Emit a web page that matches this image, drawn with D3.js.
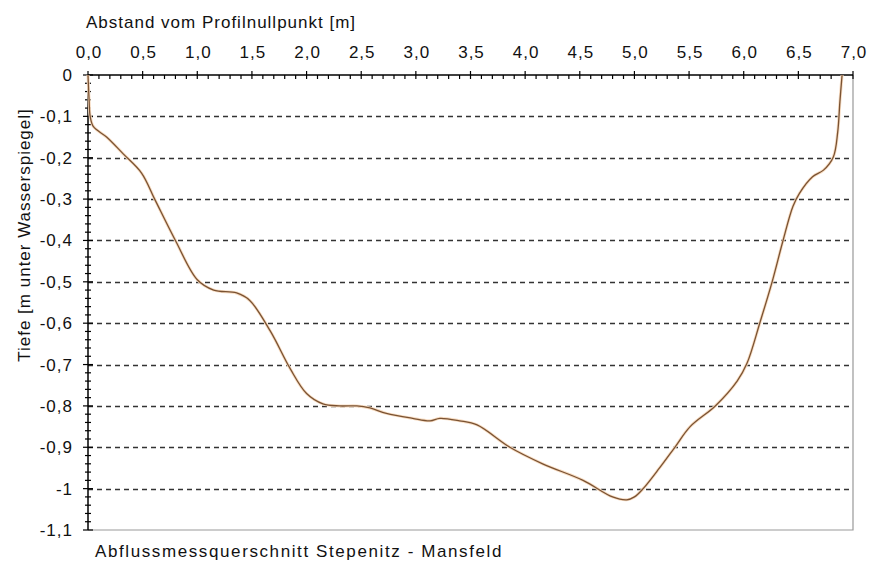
<!DOCTYPE html>
<html>
<head>
<meta charset="utf-8">
<script src="https://cdn.jsdelivr.net/npm/d3@7"></script>
<style>
  body { margin: 0; background: #fff; }
  text { font-family: "Liberation Sans", Arial, sans-serif; fill: #111; font-size: 17px; letter-spacing: 1px; }
</style>
</head>
<body>
<div id="chart"></div>
<script>
// profile measured across the river
var distance = [0, 0.01, 0.02, 0.05, 0.17, 0.32, 0.49, 0.61, 0.8, 1.0, 1.15, 1.36, 1.48, 1.67, 1.85, 2.0, 2.15, 2.3, 2.46, 2.58, 2.73, 2.97, 3.13, 3.22, 3.4, 3.56, 3.86, 4.16, 4.53, 4.8, 4.93, 5.0, 5.08, 5.23, 5.37, 5.51, 5.74, 5.94, 6.03, 6.15, 6.26, 6.36, 6.45, 6.51, 6.63, 6.73, 6.82, 6.86, 6.88, 6.9]
var depth = [0, -0.06, -0.1, -0.125, -0.15, -0.19, -0.237, -0.3, -0.4, -0.495, -0.52, -0.527, -0.545, -0.62, -0.71, -0.77, -0.795, -0.8, -0.8, -0.805, -0.818, -0.83, -0.836, -0.83, -0.836, -0.846, -0.9, -0.94, -0.98, -1.02, -1.027, -1.02, -1.0, -0.95, -0.9, -0.85, -0.8, -0.74, -0.697, -0.597, -0.5, -0.4, -0.318, -0.286, -0.246, -0.23, -0.198, -0.138, -0.065, 0]

var xTicks = [0, 0.5, 1, 1.5, 2, 2.5, 3, 3.5, 4, 4.5, 5, 5.5, 6, 6.5, 7]
var yTicks = [0, -0.1, -0.2, -0.3, -0.4, -0.5, -0.6, -0.7, -0.8, -0.9, -1, -1.1]
var gridLevels = [-0.1, -0.2, -0.3, -0.4, -0.5, -0.6, -0.7, -0.8, -0.9, -1]

var xTitle = "Abstand vom Profilnullpunkt  [m]"
var yTitle = "Tiefe [m unter Wasserspiegel]"
var caption = "Abflussmessquerschnitt Stepenitz - Mansfeld"

var width = 876
var height = 573
var plotLeft = 88, plotRight = 853, plotTop = 75, plotBottom = 530

var svg = d3.select('#chart').append('svg')
  .attr('width', width).attr('height', height)

var x = d3.scaleLinear().domain([0, 7]).range([plotLeft, plotRight])
var y = d3.scaleLinear().domain([0, -1.1]).range([plotTop, plotBottom])

function fmt(v, digits) {
  return v.toFixed(digits).replace('.', ',')
}

// frame on the right and bottom
svg.append('path')
  .attr('d', 'M' + plotRight + ',' + plotTop + 'V' + plotBottom + 'H' + plotLeft)
  .attr('fill', 'none')
  .attr('stroke', '#999')
  .attr('stroke-width', 1.2)

// dashed grid lines
svg.append('g').selectAll('line')
  .data(gridLevels)
  .enter().append('line')
  .attr('x1', plotLeft).attr('x2', plotRight)
  .attr('y1', function(d) { return Math.round(y(d)) + 0.5 })
  .attr('y2', function(d) { return Math.round(y(d)) + 0.5 })
  .attr('stroke', '#333')
  .attr('stroke-width', 1.6)
  .attr('stroke-dasharray', '5,4')

// top axis
var xAxis = svg.append('g').attr('transform', 'translate(0,' + plotTop + ')')
xAxis.append('line').attr('x1', plotLeft).attr('x2', plotRight)
  .attr('stroke', '#000').attr('stroke-width', 1.5)
var xMinor = d3.range(0, 70).filter(function(i) { return i % 5 != 0 }).map(function(i) { return i / 10 })
xAxis.selectAll('.minor').data(xMinor).enter().append('line')
  .attr('x1', function(d) { return x(d) }).attr('x2', function(d) { return x(d) })
  .attr('y1', 0).attr('y2', 4)
  .attr('stroke', '#000').attr('stroke-width', 1.2)
xAxis.selectAll('.major').data(xTicks).enter().append('line')
  .attr('x1', function(d) { return x(d) }).attr('x2', function(d) { return x(d) })
  .attr('y1', -4).attr('y2', 4)
  .attr('stroke', '#000').attr('stroke-width', 1.2)
xAxis.selectAll('text').data(xTicks).enter().append('text')
  .attr('x', function(d) { return x(d) + 1 })
  .attr('y', -17)
  .attr('text-anchor', 'middle')
  .text(function(d) { return fmt(d, 1) })

// left axis
var yAxis = svg.append('g').attr('transform', 'translate(' + plotLeft + ',0)')
yAxis.append('line').attr('y1', plotTop).attr('y2', plotBottom)
  .attr('stroke', '#000').attr('stroke-width', 1.5)
var yMinor = d3.range(0, 56).filter(function(i) { return i % 5 != 0 }).map(function(i) { return -i / 50 })
yAxis.selectAll('.minor').data(yMinor).enter().append('line')
  .attr('y1', function(d) { return y(d) }).attr('y2', function(d) { return y(d) })
  .attr('x1', -3).attr('x2', 3)
  .attr('stroke', '#000').attr('stroke-width', 1.2)
yAxis.selectAll('.major').data(yTicks).enter().append('line')
  .attr('y1', function(d) { return y(d) }).attr('y2', function(d) { return y(d) })
  .attr('x1', -5).attr('x2', 5)
  .attr('stroke', '#000').attr('stroke-width', 1.2)
yAxis.selectAll('text').data(yTicks).enter().append('text')
  .attr('x', -15)
  .attr('y', function(d) { return y(d) + 6 })
  .attr('text-anchor', 'end')
  .text(function(d) {
    if (d == 0) return '0'
    if (d == -1) return '-1'
    return fmt(d, 1)
  })

// titles
svg.append('text').attr('x', 86).attr('y', 28).text(xTitle)
svg.append('text')
  .attr('transform', 'translate(30,235) rotate(-90)')
  .attr('text-anchor', 'middle')
  .text(yTitle)
svg.append('text').attr('x', 95).attr('y', 557)
  .style('letter-spacing', '1.6px')
  .text(caption)

// profile line
var line = d3.line()
  .x(function(d) { return x(d[0]) })
  .y(function(d) { return y(d[1]) })
  .curve(d3.curveCatmullRom.alpha(0.5))

var points = distance.map(function(d, i) { return [d, depth[i]] })

svg.append('path')
  .datum(points)
  .attr('d', line)
  .attr('fill', 'none')
  .attr('stroke', '#f7dcc2')
  .attr('stroke-width', 3)
svg.append('path')
  .datum(points)
  .attr('d', line)
  .attr('fill', 'none')
  .attr('stroke', '#7a5232')
  .attr('stroke-width', 1.3)
</script>
</body>
</html>
